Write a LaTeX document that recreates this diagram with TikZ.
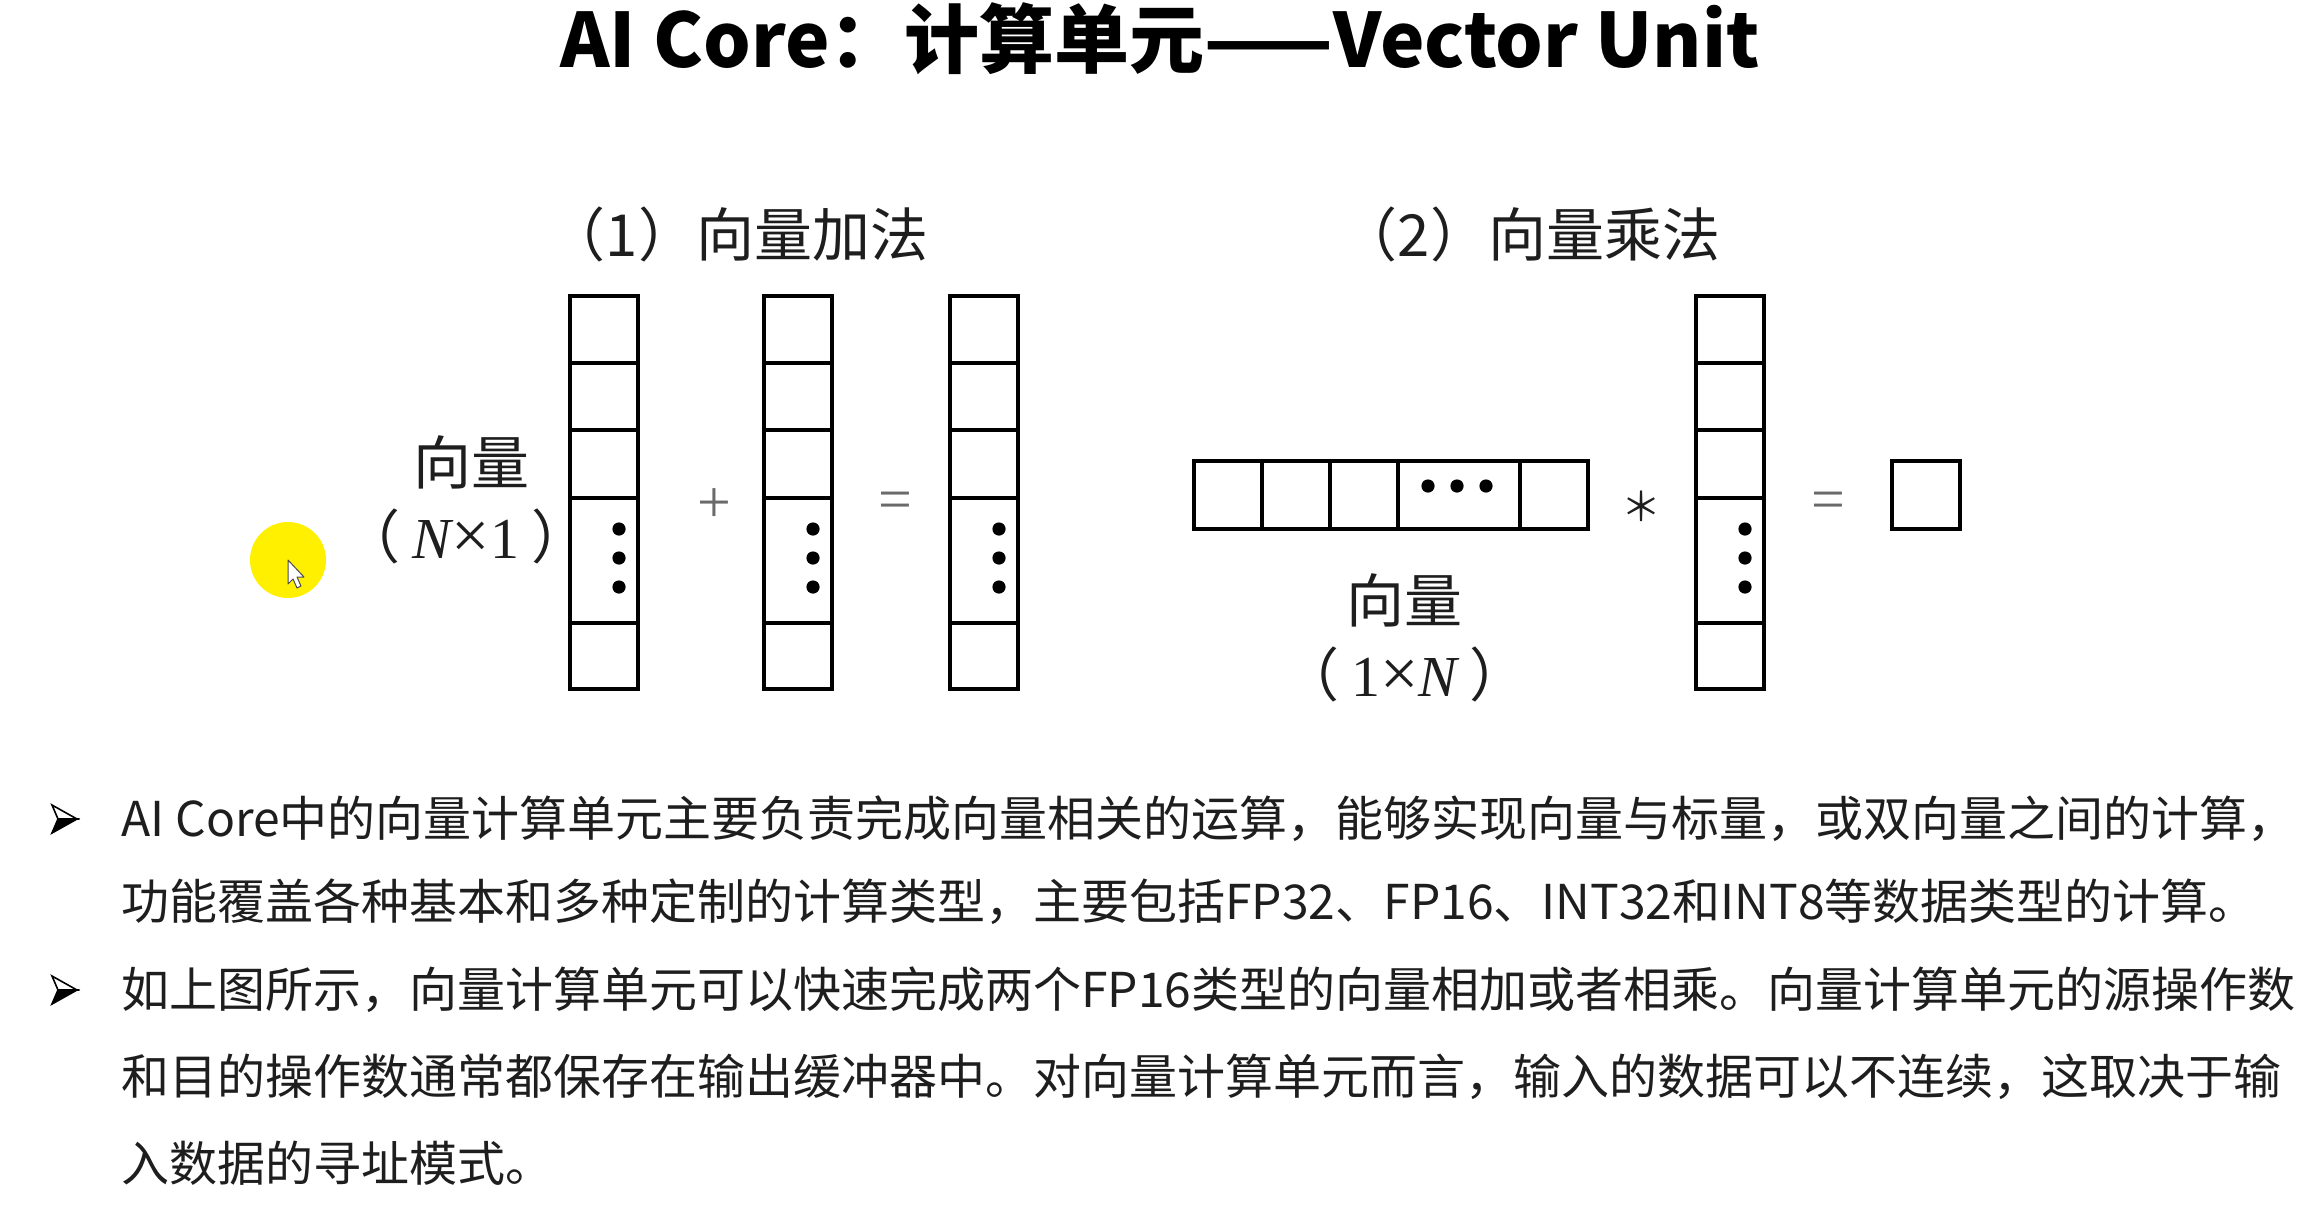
\documentclass[tikz,border=0pt]{standalone}
\usepackage{fontspec}
\setmainfont{Liberation Serif}
\newfontfamily\cjk{Noto Sans CJK SC}
\newfontfamily\lserif{Liberation Serif}
\definecolor{txt}{HTML}{1E1E1E}
\definecolor{hl}{RGB}{255,240,0}
\definecolor{opgray}{HTML}{6A6A6A}
\begin{document}
\begin{tikzpicture}[x=0.5pt,y=-0.5pt,
  cell/.style={draw=black,line width=2.3pt},
  dotf/.style={fill=black},
  lbl/.style={font=\cjk\fontsize{29}{33}\selectfont,text=txt,inner sep=0pt},
  op/.style={font=\lserif\fontsize{30}{34}\selectfont,text=opgray,inner sep=0pt},
  body/.style={font=\cjk\fontsize{24}{30}\selectfont,text=txt,inner sep=0pt,anchor=west},
  bullet/.style={line width=0.8pt,line join=miter}
]
\fill[white] (0,0) rectangle (2323,1212);
\useasboundingbox (0,0) rectangle (2323,1212);

% title
\node[font=\cjk\bfseries\fontsize{37.5}{42}\selectfont,text=black,anchor=base,inner sep=0pt] (title) at (1160,67) {AI Core：计算单元——Vector Unit};

% section labels
\node[lbl] (lab1) at (738,234) {（1）向量加法};
\node[lbl] (lab2) at (1530,234) {（2）向量乘法};

% column vectors
\foreach \L/\nm in {570/a,764/b,950/c,1696/d}{
  \begin{scope}[shift={(\L,296)}]
    \draw[cell] (0,0) rectangle (68,393);
    \foreach \yy in {67,134,202,327} \draw[cell] (0,\yy) -- (68,\yy);
    \foreach \yy in {233,262,291} \fill[dotf] (49,\yy) circle[radius=3.3pt];
  \end{scope}
}

% row vector
\begin{scope}[shift={(1194,461)}]
  \draw[cell] (0,0) rectangle (394,68);
  \foreach \xx in {68,136,204,326} \draw[cell] (\xx,0) -- (\xx,68);
  \foreach \xx in {234,263,292} \fill[dotf] (\xx,25) circle[radius=3.3pt];
\end{scope}

% result square
\draw[cell] (1892,461) rectangle (1960,529);

% operators
\node[op] (plus) at (714,506) {+};
\node[op] (eq1) at (895,506) {=};
\node[font=\cjk\fontsize{20}{24}\selectfont,text=txt,inner sep=0pt] (times) at (1641,506) {＊};
\node[op] (eq2) at (1828,506) {=};

% vector labels
\node[lbl] (v1) at (471,462) {向量};
\node[lbl] (v1d) at (466,536) {（\hspace{6pt}{\lserif\itshape N}{\lserif\fontsize{34}{34}\selectfont ×}{\lserif 1}\hspace{6pt}）};
\node[lbl] (v2) at (1404,600) {向量};
\node[lbl] (v2d) at (1404,674) {（\hspace{6pt}{\lserif 1}{\lserif\fontsize{34}{34}\selectfont ×}{\lserif\itshape N}\hspace{6pt}）};

% pointer highlight
\fill[hl] (288,560) circle[radius=19pt];
\filldraw[fill=white,draw=black!70,line width=0.5pt,line join=round]
  (288,560) -- (288,584) -- (293,579) -- (297,588) -- (301,586) -- (297,577) -- (304,577) -- cycle;

% bullets
\foreach \yy in {819,990}{
  \filldraw[bullet,fill=white,draw=black] (77,\yy) -- (52,\yy-14) -- (58,\yy) -- cycle;
  \filldraw[bullet,fill=black,draw=black] (77,\yy) -- (58,\yy) -- (52,\yy+14) -- cycle;
}

% body text
\node[body] (l1) at (121,819) {AI Core中的向量计算单元主要负责完成向量相关的运算，能够实现向量与标量，或双向量之间的计算，};
\node[body] (l2) at (121,902) {功能覆盖各种基本和多种定制的计算类型，主要包括FP32、FP16、INT32和INT8等数据类型的计算。};
\node[body] (l3) at (121,990) {如上图所示，向量计算单元可以快速完成两个FP16类型的向量相加或者相乘。向量计算单元的源操作数};
\node[body] (l4) at (121,1077) {和目的操作数通常都保存在输出缓冲器中。对向量计算单元而言，输入的数据可以不连续，这取决于输};
\node[body] (l5) at (121,1163) {入数据的寻址模式。};
\end{tikzpicture}
\end{document}
